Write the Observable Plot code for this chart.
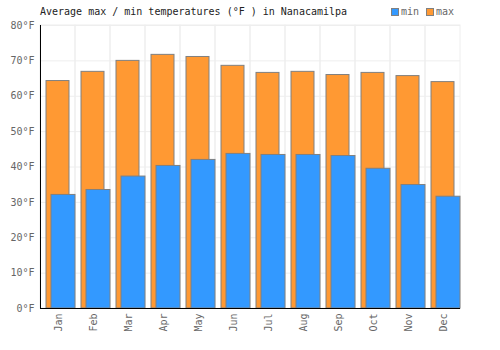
<!DOCTYPE html>
<html>
<head>
<meta charset="utf-8">
<script src="https://cdn.jsdelivr.net/npm/d3@7"></script>
<script src="https://cdn.jsdelivr.net/npm/@observablehq/plot@0.6"></script>
<style>
  body { margin: 0; background: #fff; }
  #wrap { position: relative; width: 500px; height: 350px; font-family: "DejaVu Sans Mono", monospace; font-size: 10px; }
  #title { position: absolute; left: 40px; top: 6px; color: #222; white-space: pre; }
  #legend { position: absolute; left: 391px; top: 6px; color: #666; white-space: pre; display: flex; align-items: center; }
  .sw { display: inline-block; width: 6px; height: 6px; border: 1px solid #808080; margin-right: 2px; }
</style>
</head>
<body>
<div id="wrap">
  <div id="chart"></div>
  <div id="title">Average max / min temperatures (°F ) in Nanacamilpa</div>
  <div id="legend"><span class="sw" style="background:#3399ff"></span>min<span style="display:inline-block;width:7px"></span><span class="sw" style="background:#ff9933"></span>max</div>
</div>
<script>
const months = ["Jan","Feb","Mar","Apr","May","Jun","Jul","Aug","Sep","Oct","Nov","Dec"];
const minF = [32.1, 33.5, 37.3, 40.3, 42.0, 43.7, 43.4, 43.4, 43.1, 39.5, 34.9, 31.6];
const maxF = [64.3, 66.9, 70.0, 71.7, 71.1, 68.6, 66.6, 66.9, 66.0, 66.6, 65.7, 64.0];
const yTicks = [0, 10, 20, 30, 40, 50, 60, 70, 80];
const yMax = 80;

const data = months.map((m, i) => ({month: m, min: minF[i], max: maxF[i]}));

const chart = Plot.plot({
  width: 500,
  height: 350,
  marginLeft: 40,
  marginRight: 40,
  marginTop: 25,
  marginBottom: 42,
  style: {fontFamily: "DejaVu Sans Mono, monospace", fontSize: "10px", color: "#666", background: "white"},
  x: {domain: months, padding: 0, label: null},
  y: {domain: [0, yMax], label: null},
  marks: [
    Plot.gridY(yTicks, {stroke: "#eeeeee", strokeOpacity: 1}),
    Plot.barY(data, {x: "month", y: () => yMax, fill: "none", stroke: "#eeeeee"}),
    Plot.barY(data, {x: "month", y: "max", fill: "#ff9933", stroke: "#808080", insetLeft: 6, insetRight: 6}),
    Plot.barY(data, {x: "month", y: "min", fill: "#3399ff", stroke: "#808080", insetLeft: 11, insetRight: 0}),
    Plot.axisY(yTicks, {tickSize: 0, tickPadding: 6, tickFormat: d => d + "°F", fill: "#666"}),
    Plot.axisX({tickSize: 0, tickPadding: 5, tickRotate: -90, fill: "#666", dx: 1}),
    Plot.frame({anchor: "left", stroke: "black"}),
    Plot.ruleY([0], {stroke: "black"})
  ]
});
document.getElementById("chart").appendChild(chart);
</script>
</body>
</html>
